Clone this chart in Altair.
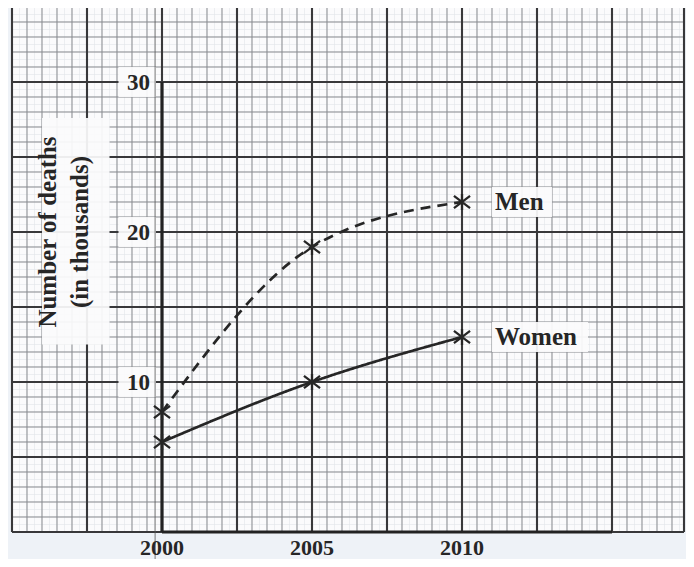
import altair as alt
import pandas as pd
import numpy as np

# ---- data ----
years = [2000, 2005, 2010]
men = [8, 19, 22]
women = [6, 10, 13]
y_ticks = [10, 20, 30]
x_ticks = [2000, 2005, 2010]
series_labels = ["Men", "Women"]
label_years = [2011.1, 2011.1]
label_values = [22.0, 13.0]
y_title = ["Number of deaths", "(in thousands)"]

W, H = 678, 551
xs = alt.Scale(domain=[1994.8667, 2017.4667], nice=False, zero=False)
ys = alt.Scale(domain=[-1.8, 34.9333], nice=False, zero=False)

FONT = "Liberation Serif"
INK = "#262626"

def X(f="x"):
    return alt.X(f"{f}:Q", scale=xs, axis=None)

def Y(f="y"):
    return alt.Y(f"{f}:Q", scale=ys, axis=None)

# graph paper extent
GX0, GX1, GY0, GY1 = 1995.0, 2017.4, 0.0, 35.0

paper = alt.Chart(pd.DataFrame({"x": [GX0], "x2": [GX1], "y": [GY0], "y2": [GY1]})).mark_rect(
    color="#fbfbfc").encode(x=X(), x2="x2:Q", y=Y(), y2="y2:Q")

def vlines(vals, color, width):
    df = pd.DataFrame({"x": vals, "y": GY0, "y2": GY1})
    return alt.Chart(df).mark_rule(color=color, strokeWidth=width).encode(x=X(), y=Y(), y2="y2:Q")

def hlines(vals, color, width):
    df = pd.DataFrame({"y": vals, "x": GX0, "x2": GX1})
    return alt.Chart(df).mark_rule(color=color, strokeWidth=width).encode(y=Y(), x=X(), x2="x2:Q")

fine_x = [v for v in np.arange(GX0, GX1 + 0.01, 0.25)]
fine_y = [v for v in np.arange(GY0, GY1 + 0.01, 0.5)]
med_x = [v for v in np.arange(GX0, GX1 + 0.01, 0.5)]
med_y = [v for v in np.arange(GY0, GY1 + 0.01, 1.0)]
maj_x = [v for v in np.arange(GX0, GX1 + 0.01, 2.5)] + [GX1]
maj_y = [v for v in np.arange(GY0, GY1 + 0.01, 5.0)]

grid = [
    vlines(fine_x, "#e3e5e9", 0.6), hlines(fine_y, "#e3e5e9", 0.6),
    vlines(med_x, "#8a8c90", 1.0), hlines(med_y, "#8a8c90", 1.0),
    vlines(maj_x, "#38383a", 2.1), hlines(maj_y, "#38383a", 2.1),
]

# white patches behind texts
boxes = pd.DataFrame({
    "x": [1996.0, 1998.55, 1998.55, 1998.55, 2011.0, 2011.0],
    "x2": [1998.25, 1999.8, 1999.8, 1999.8, 2013.0, 2014.2],
    "y": [12.5, 29.0, 19.0, 9.0, 21.0, 12.0],
    "y2": [27.6, 31.0, 21.0, 11.0, 23.0, 14.0],
})
box_layer = alt.Chart(boxes).mark_rect(color="#fbfbfc", opacity=0.93).encode(
    x=X(), x2="x2:Q", y=Y(), y2="y2:Q")

# axes (thick lines)
axes_df = pd.DataFrame({"x": [2000.0, 2000.0], "x2": [2000.0, 2015.0], "y": [0.0, 0.0], "y2": [30.0, 0.0]})
axes = alt.Chart(axes_df).mark_rule(color="#222", strokeWidth=3.2).encode(
    x=X(), x2="x2:Q", y=Y(), y2="y2:Q")

# thin scanning line through the 2000 label
scan = alt.Chart(pd.DataFrame({"x": [1999.77], "y": [-1.8], "y2": [34.93]})).mark_rule(
    color="#555", strokeWidth=0.8).encode(x=X(), y=Y(), y2="y2:Q")

# data lines
df = pd.DataFrame({
    "year": years * 2,
    "value": men + women,
    "series": ["Men"] * 3 + ["Women"] * 3,
})
lines = alt.Chart(df).mark_line(color=INK, strokeWidth=2.7, interpolate="monotone").encode(
    x=X("year"), y=Y("value"),
    detail="series:N",
    strokeDash=alt.StrokeDash("series:N", scale=alt.Scale(domain=["Men", "Women"], range=[[10, 7], [1, 0]]),
                              legend=None),
)
marks = alt.Chart(df).mark_point(
    shape="M-1,-0.75L1,0.75M-1,0.75L1,-0.75M0,-1L0,1",
    filled=False, color=INK, strokeWidth=2.3, size=260, opacity=1).encode(
    x=X("year"), y=Y("value"))

# texts
ytick_df = pd.DataFrame({"x": [1999.6] * 3, "y": y_ticks, "t": [str(v) for v in y_ticks]})
ytick_text = alt.Chart(ytick_df).mark_text(
    font=FONT, fontWeight="bold", fontSize=23, align="right", baseline="middle", color=INK, dy=1).encode(
    x=X(), y=Y(), text="t:N")

xtick_df = pd.DataFrame({"x": x_ticks, "y": [-1.05] * 3, "t": [str(v) for v in x_ticks]})
xtick_text = alt.Chart(xtick_df).mark_text(
    font=FONT, fontWeight="bold", fontSize=22, align="center", baseline="middle", color=INK).encode(
    x=X(), y=Y(), text="t:N")

lab_df = pd.DataFrame({"x": label_years, "y": label_values, "t": series_labels})
lab_text = alt.Chart(lab_df).mark_text(
    font=FONT, fontWeight="bold", fontSize=25, align="left", baseline="middle", color=INK).encode(
    x=X(), y=Y(), text="t:N")

title_df = pd.DataFrame({"x": [1996.2, 1997.27], "y": [20.0, 20.0], "t": y_title})
title_text = alt.Chart(title_df).mark_text(
    font=FONT, fontWeight="bold", fontSize=25, align="center", baseline="middle", angle=270, color=INK).encode(
    x=X(), y=Y(), text="t:N")

chart = alt.layer(
    paper, *grid, box_layer, axes, scan, lines, marks,
    ytick_text, xtick_text, lab_text, title_text,
).properties(
    width=W, height=H,
    background="#eef2f7",
    padding=0,
    autosize=alt.AutoSizeParams(type="none"),
).configure_view(stroke=None, clip=False)

chart.save("out.html", embed_options={"renderer": "svg", "actions": False})
